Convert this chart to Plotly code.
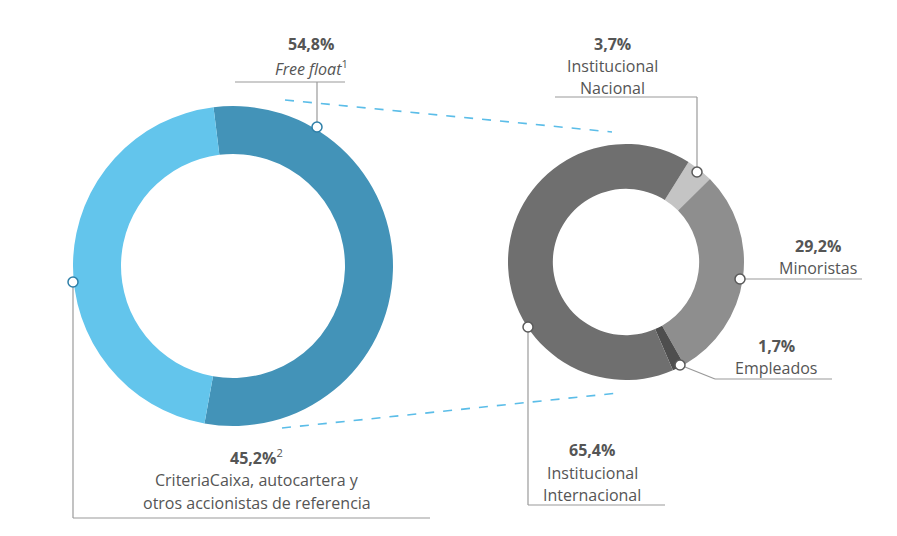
import plotly.graph_objects as go

W, H = 897, 536
left_labels = ["Free float", "CriteriaCaixa"]
left_values = [54.8, 45.2]
left_colors = ["#4393B8", "#63C5EC"]
right_labels = ["Institucional Nacional", "Minoristas", "Empleados", "Institucional Internacional"]
right_values = [3.7, 29.2, 1.7, 65.4]
right_colors = ["#C4C4C4", "#8E8E8E", "#4E4E4E", "#6F6F6F"]

OFF = 8
def px(x): return (x - OFF) / W
def py(y): return 1 - (y - OFF) / H

fig = go.Figure()
fig.add_trace(go.Pie(values=left_values, labels=left_labels, marker=dict(colors=left_colors),
                     hole=0.7, sort=False, direction="clockwise", rotation=-7,
                     textinfo="none", hoverinfo="label+percent",
                     domain=dict(x=[px(73), px(393)], y=[py(426), py(106)])))
fig.add_trace(go.Pie(values=right_values, labels=right_labels, marker=dict(colors=right_colors),
                     hole=0.62, sort=False, direction="clockwise", rotation=32,
                     textinfo="none", hoverinfo="label+percent",
                     domain=dict(x=[px(508), px(744)], y=[py(380), py(144)])))

shapes = []
def line(x0, y0, x1, y1, color="#9A9A9A", dash="solid", w=1.2):
    shapes.append(dict(type="line", xref="paper", yref="paper", x0=px(x0), y0=py(y0),
                       x1=px(x1), y1=py(y1), line=dict(color=color, width=w, dash=dash)))
line(285, 100, 612, 132, "#5BBDE8", "dash", 1.6)
line(282, 428, 618, 393, "#5BBDE8", "dash", 1.6)
line(317, 127, 317, 82); line(235, 82, 345, 82)
line(73, 282, 73, 518); line(73, 518, 430, 518)
line(697, 172, 697, 97); line(555, 97, 697, 97)
line(740, 279, 862, 279)
line(680, 365, 715, 379); line(715, 379, 832, 379)
line(528, 327, 528, 505); line(528, 505, 665, 505)

def dot(x, y, c):
    r = 5
    shapes.append(dict(type="circle", xref="paper", yref="paper", x0=px(x - r), x1=px(x + r),
                       y0=py(y + r), y1=py(y - r), fillcolor="white", line=dict(color=c, width=1.5)))
dot(317, 127, "#2E7FA8"); dot(73, 282, "#2E7FA8")
dot(697, 172, "#5A5A5A"); dot(740, 279, "#5A5A5A"); dot(680, 365, "#5A5A5A"); dot(528, 327, "#5A5A5A")

ann = []
def text(x, y, t, size=16):
    ann.append(dict(xref="paper", yref="paper", x=px(x), y=py(y), text=t, showarrow=False,
                    font=dict(size=size, color="#555555", family="Open Sans"),
                    xanchor="center", yanchor="middle"))
text(311, 44, "<b>54,8%</b>"); text(311, 68, "<i>Free float</i><sup>1</sup>")
text(257, 457, "<b>45,2%</b><sup>2</sup>")
text(257, 480, "CriteriaCaixa, autocartera y"); text(257, 503, "otros accionistas de referencia")
text(612, 44, "<b>3,7%</b>"); text(612, 66, "Institucional"); text(612, 88, "Nacional")
text(818, 246, "<b>29,2%</b>"); text(818, 268, "Minoristas")
text(776, 346, "<b>1,7%</b>"); text(776, 368, "Empleados")
text(592, 450, "<b>65,4%</b>"); text(592, 473, "Institucional"); text(592, 495, "Internacional")

fig.update_layout(width=W, height=H, margin=dict(l=0, r=0, t=0, b=0), showlegend=False,
                  paper_bgcolor="white", plot_bgcolor="white", shapes=shapes, annotations=ann)
fig.write_html("out.html")
